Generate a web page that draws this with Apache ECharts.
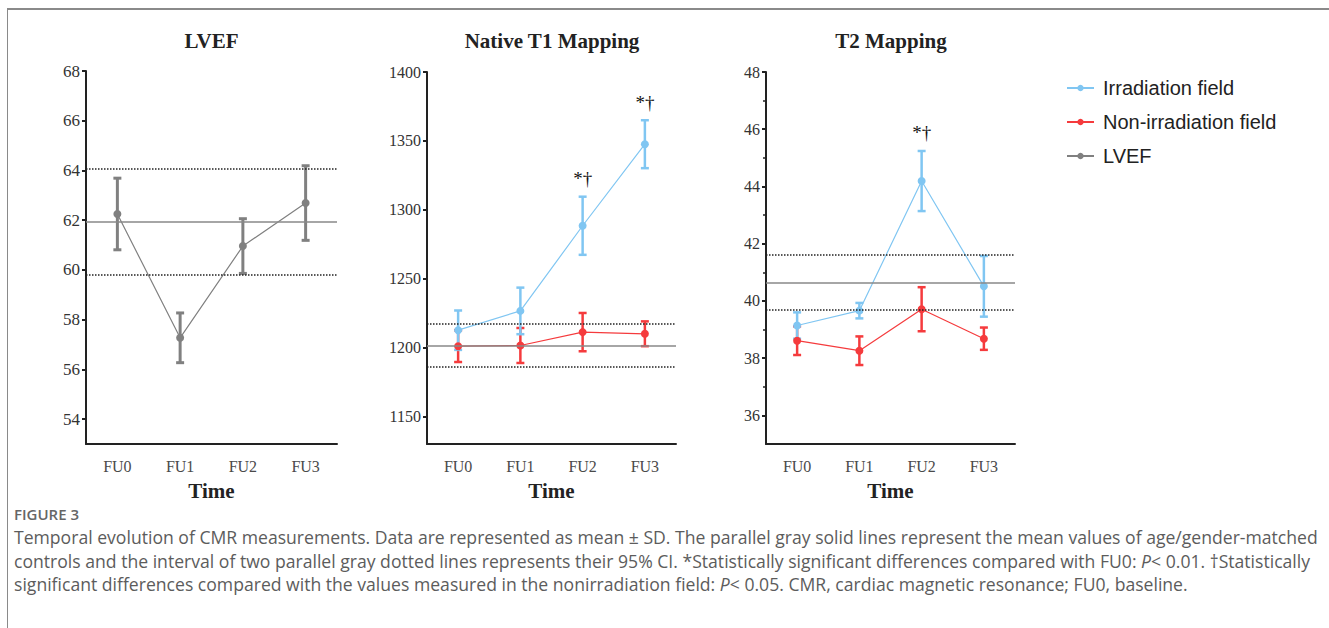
<!DOCTYPE html>
<html>
<head>
<meta charset="utf-8">
<script src="https://cdn.jsdelivr.net/npm/echarts@6/dist/echarts.min.js"></script>
<style>
    body { margin: 0; background: #fff; }
    #wrap { position: relative; width: 1329px; height: 628px; overflow: hidden; background: #fff; }
    #frame { position: absolute; left: 7px; top: 8px; width: 1330px; height: 630px; border-left: 1px solid #8a8a8a; border-top: 2px solid #8a8a8a; }
    #chart { position: absolute; left: 0; top: 0; width: 1329px; height: 628px; }
    #caption { position: absolute; left: 14px; top: 503px; font-family: "Open Sans", "Lato", sans-serif; color: #5c5c5c; white-space: nowrap; }
    #caption .fig { font-size: 15px; font-weight: 600; color: #666; height: 23px; line-height: 23px; }
    #caption .ln { font-size: 17.6px; height: 23.5px; line-height: 23.5px; }
</style>
</head>
<body>
<div id="wrap">
    <div id="frame"></div>
    <div id="chart"></div>
    <div id="caption">
        <div class="fig">FIGURE 3</div>
        <div class="ln">Temporal evolution of CMR measurements. Data are represented as mean ± SD. The parallel gray solid lines represent the mean values of age/gender-matched</div>
        <div class="ln">controls and the interval of two parallel gray dotted lines represents their 95% CI. *Statistically significant differences compared with FU0: <i>P</i>&lt; 0.01. †Statistically</div>
        <div class="ln">significant differences compared with the values measured in the nonirradiation field: <i>P</i>&lt; 0.05. CMR, cardiac magnetic resonance; FU0, baseline.</div>
    </div>
</div>
<script>
// 数据
var cats = ['FU0', 'FU1', 'FU2', 'FU3'];

var lvefMean = [62.25, 57.27, 60.96, 62.69];
var lvefSD = [1.44, 1.0, 1.1, 1.5];
var lvefCtrl = [59.82, 61.95, 64.06];   // 下限95%CI, 均值, 上限95%CI

var t1IrrMean = [1212.6, 1226.6, 1288.4, 1347.6];
var t1IrrSD = [14.3, 16.9, 21.1, 17.4];
var t1NonMean = [1201.0, 1201.5, 1211.2, 1210.0];
var t1NonSD = [11.5, 12.7, 13.9, 9.0];
var t1Ctrl = [1186, 1201.2, 1217];
var t1Sig = ['', '', '*†', '*†'];

var t2IrrMean = [39.14, 39.66, 44.19, 40.51];
var t2IrrSD = [0.46, 0.27, 1.05, 1.06];
var t2NonMean = [38.61, 38.26, 39.71, 38.68];
var t2NonSD = [0.5, 0.5, 0.77, 0.39];
var t2Ctrl = [39.69, 40.65, 41.62];
var t2Sig = ['', '', '*†', ''];

var lvefTicks = [54, 56, 58, 60, 62, 64, 66, 68];
var t1Ticks = [1150, 1200, 1250, 1300, 1350, 1400];
var t2Ticks = [36, 38, 40, 42, 44, 46, 48];
var t2Minor = [37, 39, 41, 43, 45, 47];

var BLUE = '#80c6f2';
var RED = '#f53b3d';
var GRAY = '#808080';

// 误差线 (均值 ± SD)
function errorBars(name, idx, mean, sd, color, lw, sig) {
    return {
        type: 'custom',
        name: name,
        xAxisIndex: idx,
        yAxisIndex: idx,
        data: mean.map(function (m, i) { return [i, m, sd[i]]; }),
        renderItem: function (params, api) {
            var i = api.value(0), m = api.value(1), s = api.value(2);
            var hi = api.coord([i, m + s]);
            var lo = api.coord([i, m - s]);
            var w = 4;
            var st = { stroke: color, lineWidth: lw };
            var children = [
                { type: 'line', shape: { x1: hi[0], y1: hi[1], x2: lo[0], y2: lo[1] }, style: st },
                { type: 'line', shape: { x1: hi[0] - w, y1: hi[1], x2: hi[0] + w, y2: hi[1] }, style: st },
                { type: 'line', shape: { x1: lo[0] - w, y1: lo[1], x2: lo[0] + w, y2: lo[1] }, style: st }
            ];
            // 显著性标记
            if (sig && sig[params.dataIndex]) {
                children.push({
                    type: 'text',
                    x: hi[0], y: hi[1] - 18,
                    style: {
                        text: sig[params.dataIndex],
                        align: 'center', verticalAlign: 'middle',
                        font: '19px "Liberation Serif"', fill: '#111'
                    }
                });
            }
            return { type: 'group', children: children };
        }
    };
}

function meanLine(name, idx, mean, color, ctrl) {
    var s = {
        type: 'line',
        name: name,
        xAxisIndex: idx,
        yAxisIndex: idx,
        data: mean,
        symbol: 'circle',
        symbolSize: 8,
        lineStyle: { color: color, width: 1.2 },
        itemStyle: { color: color }
    };
    // 对照组均值及95%CI
    if (ctrl) {
        s.markLine = {
            silent: true,
            symbol: 'none',
            label: { show: false },
            data: [
                { yAxis: ctrl[0], lineStyle: { type: 'dotted', color: '#222', width: 1.5 } },
                { yAxis: ctrl[1], lineStyle: { type: 'solid', color: '#888', width: 1.5 } },
                { yAxis: ctrl[2], lineStyle: { type: 'dotted', color: '#222', width: 1.5 } }
            ]
        };
    }
    return s;
}

function xAxisOf(idx) {
    return {
        gridIndex: idx,
        type: 'category',
        data: cats,
        boundaryGap: true,
        axisLine: { lineStyle: { color: '#222', width: 2 } },
        axisTick: { alignWithLabel: true, length: 5, lineStyle: { color: '#222', width: 2 } },
        axisLabel: { fontFamily: 'Liberation Serif', fontSize: 16, color: '#4a4a4a', margin: 14 },
        name: 'Time',
        nameLocation: 'middle',
        nameGap: 36,
        nameTextStyle: { fontFamily: 'Liberation Serif', fontSize: 21, fontWeight: 'bold', color: '#222' }
    };
}

function yAxisOf(idx, min, max, ticks, fs) {
    return {
        gridIndex: idx,
        type: 'value',
        min: min,
        max: max,
        position: 'left',
        axisLine: { show: true, lineStyle: { color: '#222', width: 2 } },
        axisTick: { show: true, length: 4, customValues: ticks, lineStyle: { color: '#222', width: 2 } },
        axisLabel: {
            customValues: ticks,
            formatter: function (v) { return String(v); },
            fontFamily: 'Liberation Serif', fontSize: fs, color: '#333', margin: 6
        },
        splitLine: { show: false }
    };
}

var chart = echarts.init(document.getElementById('chart'), null, { renderer: 'svg' });

var t2MinorAxis = {
    gridIndex: 2,
    type: 'value',
    min: 35,
    max: 48,
    position: 'left',
    offset: 0,
    axisLine: { show: false },
    axisTick: { show: true, length: 3, customValues: t2Minor, lineStyle: { color: '#222', width: 1.5 } },
    axisLabel: { show: false },
    splitLine: { show: false }
};

var titleFont = 'bold 21px "Liberation Serif"';

var option = {
    animation: false,
    graphic: [
        { type: 'text', x: 211.5, y: 41, style: { text: 'LVEF', align: 'center', verticalAlign: 'middle', font: titleFont, fill: '#222' } },
        { type: 'text', x: 552, y: 41, style: { text: 'Native T1 Mapping', align: 'center', verticalAlign: 'middle', font: titleFont, fill: '#222' } },
        { type: 'text', x: 891, y: 41, style: { text: 'T2 Mapping', align: 'center', verticalAlign: 'middle', font: titleFont, fill: '#222' } }
    ],
    legend: {
        orient: 'vertical',
        left: 1061,
        top: 73,
        itemWidth: 27,
        itemHeight: 8,
        itemGap: 14,
        data: ['Irradiation field', 'Non-irradiation field', 'LVEF'],
        textStyle: { fontFamily: 'Liberation Sans', fontSize: 20, color: '#222', padding: [0, 0, 0, 4] }
    },
    grid: [
        { left: 86, top: 71, width: 251, height: 373, outerBoundsMode: 'none' },
        { left: 427, top: 72, width: 249, height: 372, outerBoundsMode: 'none' },
        { left: 766, top: 72, width: 249, height: 372, outerBoundsMode: 'none' }
    ],
    xAxis: [xAxisOf(0), xAxisOf(1), xAxisOf(2)],
    yAxis: [
        yAxisOf(0, 53, 68, lvefTicks, 17),
        yAxisOf(1, 1130, 1400, t1Ticks, 16),
        yAxisOf(2, 35, 48, t2Ticks, 16),
        t2MinorAxis
    ],
    series: [
        meanLine('LVEF', 0, lvefMean, GRAY, lvefCtrl),
        errorBars('LVEF SD', 0, lvefMean, lvefSD, GRAY, 3),

        meanLine('Non-irradiation field', 1, t1NonMean, RED, t1Ctrl),
        errorBars('T1 non SD', 1, t1NonMean, t1NonSD, RED, 2.5),
        meanLine('Irradiation field', 1, t1IrrMean, BLUE),
        errorBars('T1 irr SD', 1, t1IrrMean, t1IrrSD, BLUE, 2.5, t1Sig),

        meanLine('Non-irradiation field', 2, t2NonMean, RED, t2Ctrl),
        errorBars('T2 non SD', 2, t2NonMean, t2NonSD, RED, 2.5),
        meanLine('Irradiation field', 2, t2IrrMean, BLUE),
        errorBars('T2 irr SD', 2, t2IrrMean, t2IrrSD, BLUE, 2.5, t2Sig)
    ]
};

chart.setOption(option);
</script>
</body>
</html>
